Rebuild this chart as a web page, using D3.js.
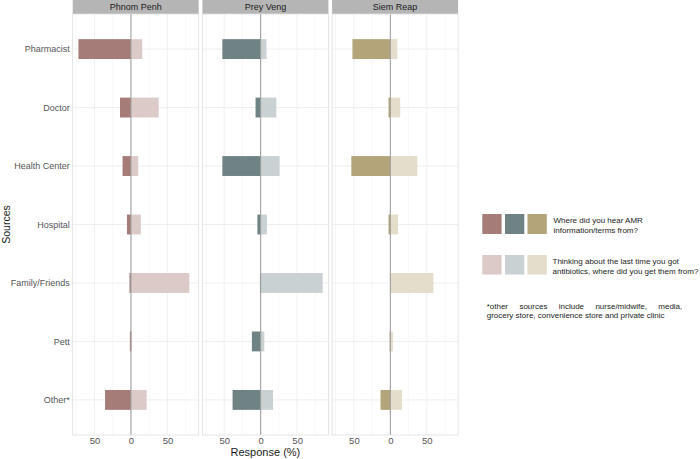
<!DOCTYPE html>
<html>
<head>
<meta charset="utf-8">
<script src="https://cdn.jsdelivr.net/npm/d3@7"></script>
<style>
body { margin: 0; background: #fff; }
text { font-family: "Liberation Sans", Arial, sans-serif; }
</style>
</head>
<body>
<svg id="chart" width="700" height="459"></svg>
<script>
// data (percent of respondents)
var sources = ["Pharmacist", "Doctor", "Health Center", "Hospital", "Family/Friends", "Pett", "Other*"];
var regions = ["Phnom Penh", "Prey Veng", "Siem Reap"];

var heardPP = [72, 15, 11.5, 5.5, 2, 1.5, 35.5];
var gotPP   = [15.5, 38, 10, 13.5, 80, 1.5, 21.5];
var heardPV = [52.5, 7, 52.5, 4.5, 1, 12, 38.5];
var gotPV   = [8, 21.5, 26, 8.5, 85, 5, 17];
var heardSR = [52, 2.5, 53.5, 2.5, 0.5, 1, 13.5];
var gotSR   = [9.5, 13.5, 37, 10.5, 59, 3.5, 16];

var darkColors  = ["#a57c78", "#6f8385", "#b3a47a"];
var lightColors = ["#dccac8", "#c9d1d2", "#e4ddcb"];

var xTicks = [-50, 0, 50];
var xMinor = [-75, -25, 25, 75];

var legendHeard = ["Where did you hear AMR", "information/terms from?"];
var legendGot = ["Thinking about the last time you got", "antibiotics, where did you get them from?"];
var footnote = ["*other sources include nurse/midwife, media,", "grocery store, convenience store and private clinic"];

var heard = [heardPP, heardPV, heardSR];
var got = [gotPP, gotPV, gotSR];

var svg = d3.select("#chart");

var panelLeft = 72.7, panelW = 126, panelGap = 3.7;
var plotTop = 14, plotBottom = 435, stripH = 14;

// shared x domain with ggplot-like 5% expansion
var lo = -d3.max(heard, function(a) { return d3.max(a); });
var hi = d3.max(got, function(a) { return d3.max(a); });
var pad = (hi - lo) * 0.05;

var y = d3.scalePoint()
  .domain(sources)
  .range([plotTop, plotBottom])
  .padding(0.6);

var barH = y.step() * 0.34;

regions.forEach(function(region, r) {
  var x0 = panelLeft + r * (panelW + panelGap);
  var x = d3.scaleLinear()
    .domain([lo - pad, hi + pad])
    .range([x0, x0 + panelW]);

  var g = svg.append("g");

  // strip
  g.append("rect")
    .attr("x", x0).attr("y", 0)
    .attr("width", panelW).attr("height", stripH)
    .attr("fill", "#b5b5b5");
  g.append("text")
    .attr("x", x0 + panelW / 2).attr("y", stripH / 2 + 3.3)
    .attr("text-anchor", "middle")
    .attr("font-size", 9)
    .attr("fill", "#1a1a1a")
    .text(region);

  // grid
  g.selectAll(".minor").data(xMinor).enter().append("line")
    .attr("x1", function(d) { return x(d); }).attr("x2", function(d) { return x(d); })
    .attr("y1", plotTop).attr("y2", plotBottom)
    .attr("stroke", "#f3f3f3").attr("stroke-width", 0.6);
  g.selectAll(".major").data(xTicks).enter().append("line")
    .attr("x1", function(d) { return x(d); }).attr("x2", function(d) { return x(d); })
    .attr("y1", plotTop).attr("y2", plotBottom)
    .attr("stroke", "#ebebeb").attr("stroke-width", 0.8);
  g.selectAll(".hgrid").data(sources).enter().append("line")
    .attr("x1", x0).attr("x2", x0 + panelW)
    .attr("y1", function(d) { return y(d); }).attr("y2", function(d) { return y(d); })
    .attr("stroke", "#ebebeb").attr("stroke-width", 0.8);

  // bars: heard (left, dark), got (right, light)
  g.selectAll(".heard").data(heard[r]).enter().append("rect")
    .attr("x", function(d) { return x(-d); })
    .attr("y", function(d, i) { return y(sources[i]) - barH / 2; })
    .attr("width", function(d) { return x(0) - x(-d); })
    .attr("height", barH)
    .attr("fill", darkColors[r]);
  g.selectAll(".got").data(got[r]).enter().append("rect")
    .attr("x", x(0))
    .attr("y", function(d, i) { return y(sources[i]) - barH / 2; })
    .attr("width", function(d) { return x(d) - x(0); })
    .attr("height", barH)
    .attr("fill", lightColors[r]);

  // zero line
  g.append("line")
    .attr("x1", x(0)).attr("x2", x(0))
    .attr("y1", plotTop).attr("y2", plotBottom)
    .attr("stroke", "#9a9a9a").attr("stroke-width", 1);

  // panel border
  g.append("rect")
    .attr("x", x0).attr("y", plotTop)
    .attr("width", panelW).attr("height", plotBottom - plotTop)
    .attr("fill", "none").attr("stroke", "#dedede").attr("stroke-width", 0.8);

  // x axis labels
  var axis = g.append("g")
    .attr("transform", "translate(0," + plotBottom + ")")
    .call(d3.axisBottom(x).tickValues(xTicks).tickSize(0).tickPadding(2)
      .tickFormat(function(d) { return Math.abs(d); }));
  axis.select(".domain").remove();
  axis.selectAll("text")
    .attr("font-size", 9.5)
    .attr("font-family", "Liberation Sans, Arial, sans-serif")
    .attr("fill", "#555");
});

// y axis labels
var yAxis = svg.append("g")
  .attr("transform", "translate(" + panelLeft + ",0)")
  .call(d3.axisLeft(y).tickSize(0).tickPadding(3));
yAxis.select(".domain").remove();
yAxis.selectAll("text")
  .attr("font-size", 9)
  .attr("font-family", "Liberation Sans, Arial, sans-serif")
  .attr("fill", "#555");

// axis titles
svg.append("text")
  .attr("x", panelLeft + (3 * panelW + 2 * panelGap) / 2)
  .attr("y", 456)
  .attr("text-anchor", "middle")
  .attr("font-size", 11)
  .attr("fill", "#1a1a1a")
  .text("Response (%)");
svg.append("text")
  .attr("transform", "translate(10," + ((plotTop + plotBottom) / 2) + ") rotate(-90)")
  .attr("text-anchor", "middle")
  .attr("font-size", 10.5)
  .attr("fill", "#1a1a1a")
  .text("Sources");

// legend
var leg = svg.append("g");
var keyX = [482.3, 505, 527.5], keyW = 19.3;
leg.selectAll(".kd").data(darkColors).enter().append("rect")
  .attr("x", function(d, i) { return keyX[i]; }).attr("y", 214)
  .attr("width", keyW).attr("height", 20)
  .attr("fill", function(d) { return d; });
leg.selectAll(".kl").data(lightColors).enter().append("rect")
  .attr("x", function(d, i) { return keyX[i]; }).attr("y", 255)
  .attr("width", keyW).attr("height", 19.5)
  .attr("fill", function(d) { return d; });

leg.selectAll(".lh").data(legendHeard).enter().append("text")
  .attr("x", 553.5)
  .attr("y", function(d, i) { return 223 + i * 9.5; })
  .attr("font-size", 8)
  .attr("fill", "#222")
  .text(function(d) { return d; });
leg.selectAll(".lg").data(legendGot).enter().append("text")
  .attr("x", 552.5)
  .attr("y", function(d, i) { return 264 + i * 9.5; })
  .attr("font-size", 8)
  .attr("fill", "#222")
  .text(function(d) { return d; });

// footnote, first line justified
var fnX = 486.7, fnW = 195.6;
footnote.forEach(function(line, li) {
  var yy = 308.5 + li * 9.5;
  if (li == footnote.length - 1) {
    leg.append("text").attr("x", fnX).attr("y", yy)
      .attr("font-size", 8).attr("fill", "#222").text(line);
    return;
  }
  var words = line.split(" ");
  var nodes = words.map(function(w) {
    return leg.append("text").attr("y", yy).attr("font-size", 8).attr("fill", "#222").text(w);
  });
  var widths = nodes.map(function(n) { return n.node().getComputedTextLength(); });
  var gap = (fnW - d3.sum(widths)) / (words.length - 1);
  var cx = fnX;
  nodes.forEach(function(n, i) { n.attr("x", cx); cx += widths[i] + gap; });
});
</script>
</body>
</html>
